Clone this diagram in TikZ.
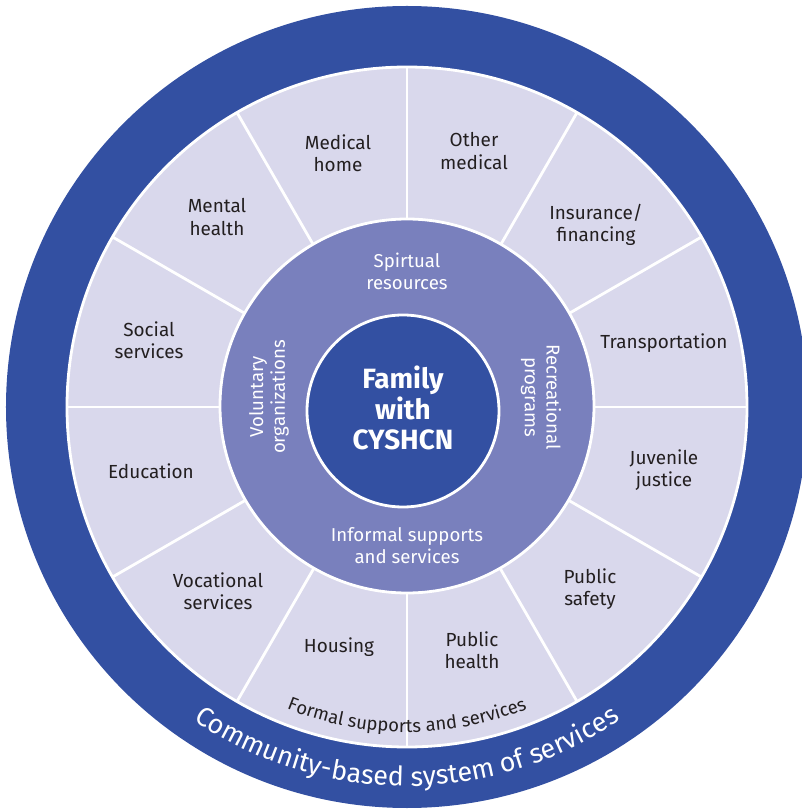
\documentclass[tikz,border=0pt]{standalone}
\usepackage{fontspec}
\setmainfont{Fira Sans}
\usetikzlibrary{decorations.text}
\definecolor{darkblue}{HTML}{3350A2}
\definecolor{midpurple}{HTML}{7980BD}
\definecolor{lightlav}{HTML}{D9D8EC}
\definecolor{txt}{HTML}{231F20}
\tikzset{
  outerlabel/.style={align=center, text=txt, font=\fontsize{19}{22.5}\selectfont, inner sep=0pt},
  midlabel/.style={align=center, text=white, font=\fontsize{18.7}{22}\selectfont, inner sep=0pt},
  spoke/.style={white, line width=2.8bp},
  ringedge/.style={draw=white, line width=2.8bp},
}
\begin{document}
\begin{tikzpicture}[x=1bp,y=1bp]
\useasboundingbox (-407,-402) rectangle (395,407);
% rings
\fill[darkblue] (0,0) circle[radius=401];
\filldraw[fill=lightlav, ringedge] (0,0) circle[radius=340];
\foreach \a in {0,30,...,330} \draw[spoke] (\a:186) -- (\a:340);
\filldraw[fill=midpurple, ringedge] (0,1) circle[radius=187];
\filldraw[fill=darkblue, ringedge] (-4,-4) circle[radius=96];
% outer ring labels
\node[outerlabel] (medhome) at (-69,254) {Medical\\home};
\node[outerlabel] (othermed) at (67,256) {Other\\medical};
\node[outerlabel] (insur) at (189,182) {Insurance/\\financing};
\node[outerlabel] (transp) at (257,64) {Transportation};
\node[outerlabel] (juven) at (257,-63) {Juvenile\\justice};
\node[outerlabel] (pubsafe) at (183,-182) {Public\\safety};
\node[outerlabel] (pubhealth) at (65,-243) {Public\\health};
\node[outerlabel] (housing) at (-68,-240) {Housing};
\node[outerlabel] (vocat) at (-189,-184) {Vocational\\services};
\node[outerlabel] (educ) at (-256,-64) {Education};
\node[outerlabel] (social) at (-258,67) {Social\\services};
\node[outerlabel] (mental) at (-190,190) {Mental\\health};
% middle ring labels
\node[midlabel] (spirit) at (0,136) {Spirtual\\resources};
\node[midlabel] (informal) at (0,-139) {Informal supports\\and services};
\node[midlabel, rotate=90] (volunt) at (-138,10) {Voluntary\\organizations};
\node[midlabel, rotate=-90] (recre) at (134,10) {Recreational\\programs};
% centre
\node[align=center, text=white, inner sep=0pt, font=\bfseries\fontsize{28}{31}\selectfont] (family) at (-4,-1) {Family\\with\\CYSHCN};
% curved texts
\path[decorate, decoration={text along path, text align=center,
  text={|\fontsize{18.5}{18.5}\selectfont\color{txt}|Formal supports and services}}]
  (200:325) arc[start angle=200, end angle=340, radius=325];
\path[decorate, decoration={text along path, text align=center,
  text={|\fontsize{27}{27}\selectfont\color{white}|Community-based system of services}}]
  (200:379) arc[start angle=200, end angle=340, radius=379];
\end{tikzpicture}
\end{document}
